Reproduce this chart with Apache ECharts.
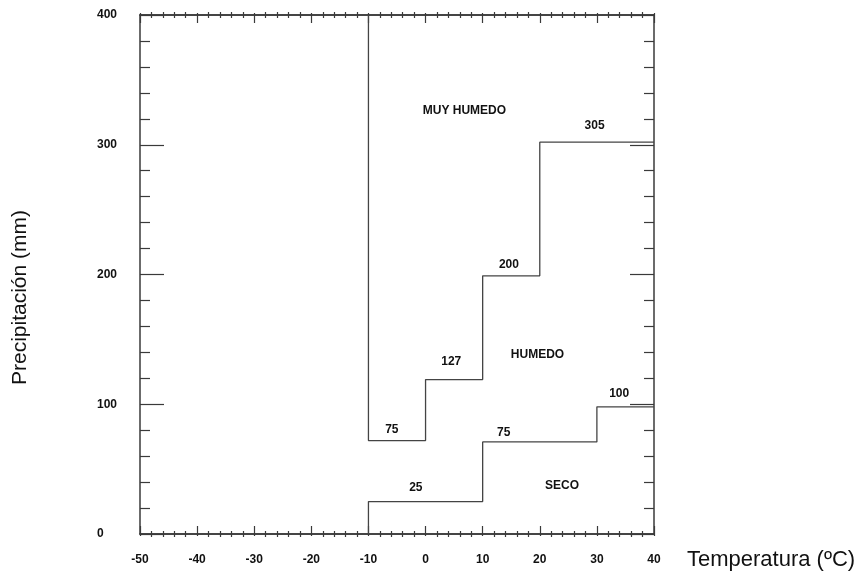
<!DOCTYPE html>
<html>
<head>
<meta charset="utf-8">
<script src="https://cdn.jsdelivr.net/npm/echarts@6/dist/echarts.min.js"></script>
<style>
html,body{margin:0;padding:0;background:#fff;}
#chart{width:856px;height:585px;}
</style>
</head>
<body>
<div id="chart"></div>
<script>
// Boundary between "MUY HUMEDO" and "HUMEDO" (temperature ºC, precipitation mm)
const upperLine = [[-10,400],[-10,72],[0,72],[0,119],[10,119],[10,199],[20,199],[20,302],[40,302]];
// Boundary between "HUMEDO" and "SECO"
const lowerLine = [[-10,0],[-10,25],[10,25],[10,71],[30,71],[30,98],[40,98]];
// Value labels and zone names: [x, y, text]
const valueLabels = [[-5.9,80.5,'75'],[4.5,132.6,'127'],[14.6,207.3,'200'],[29.6,315,'305'],
                     [-1.7,35.5,'25'],[13.7,78.2,'75'],[33.9,107.9,'100']];
const zoneLabels = [[6.8,326,'MUY HUMEDO'],[19.6,138,'HUMEDO'],[23.9,37,'SECO']];
const xTicks = {min:-50, max:40, interval:10};
const yTicks = {min:0, max:400, interval:100};
const xTitle = 'Temperatura (ºC)';
const yTitle = 'Precipitación (mm)';

const axisColor = '#3a3a3a';
const lineStyleAxis = {color: axisColor, width: 1.5};
const labelFont = {fontFamily:'Liberation Sans, Arial, sans-serif', fontWeight:'bold', fontSize:12, color:'#111'};

function xAxis(pos, inside, showLabel){
  return {
    type:'value', position:pos, min:xTicks.min, max:xTicks.max, interval:xTicks.interval,
    axisLine:{show:true, onZero:false, lineStyle:lineStyleAxis},
    axisTick:{show:true, inside:inside, length: inside?8:2, lineStyle:{color:axisColor,width:1.2}},
    minorTick:{show:true, splitNumber:5, length:3, lineStyle:{color:axisColor,width:1.2}},
    splitLine:{show:false},
    axisLabel: showLabel ? Object.assign({show:true, margin:20}, labelFont) : {show:false}
  };
}
function yAxis(pos, showLabel){
  return {
    type:'value', position:pos, min:yTicks.min, max:yTicks.max, interval:yTicks.interval,
    axisLine:{show:true, onZero:false, lineStyle:lineStyleAxis},
    axisTick:{show:true, inside:true, length:24, lineStyle:{color:axisColor,width:1.2}},
    minorTick:{show:true, splitNumber:5, length:10, lineStyle:{color:axisColor,width:1.2}},
    splitLine:{show:false},
    axisLabel: showLabel ? Object.assign({show:true, margin:43, align:'left'}, labelFont) : {show:false}
  };
}

const chart = echarts.init(document.getElementById('chart'), null, {renderer:'canvas'});
chart.setOption({
  animation:false,
  backgroundColor:'#fff',
  grid:{left:140, right:202, top:15, bottom:51, containLabel:false},
  xAxis:[xAxis('bottom', true, true), xAxis('top', true, false), xAxis('bottom', false, false), xAxis('top', false, false)],
  yAxis:[yAxis('left', true), yAxis('right', false)],
  graphic:[
    {type:'text', left:687, top:549, style:{text:xTitle, fontFamily:'Liberation Sans, Arial, sans-serif', fontSize:22, fill:'#111'}},
    {type:'text', x:10, y:385, rotation:Math.PI/2, style:{text:yTitle, fontFamily:'Liberation Sans, Arial, sans-serif', fontSize:21, fill:'#111'}}
  ],
  series:[
    {type:'line', data:upperLine, showSymbol:false, symbol:'none', lineStyle:{color:'#444', width:1.3}, silent:true},
    {type:'line', data:lowerLine, showSymbol:false, symbol:'none', lineStyle:{color:'#444', width:1.3}, silent:true},
    {type:'scatter', data:valueLabels.concat(zoneLabels), symbolSize:0, silent:true, itemStyle:{opacity:1},
     label:Object.assign({show:true, position:'inside', formatter:p=>p.data[2], textBorderWidth:0}, labelFont)}
  ]
});
</script>
</body>
</html>
